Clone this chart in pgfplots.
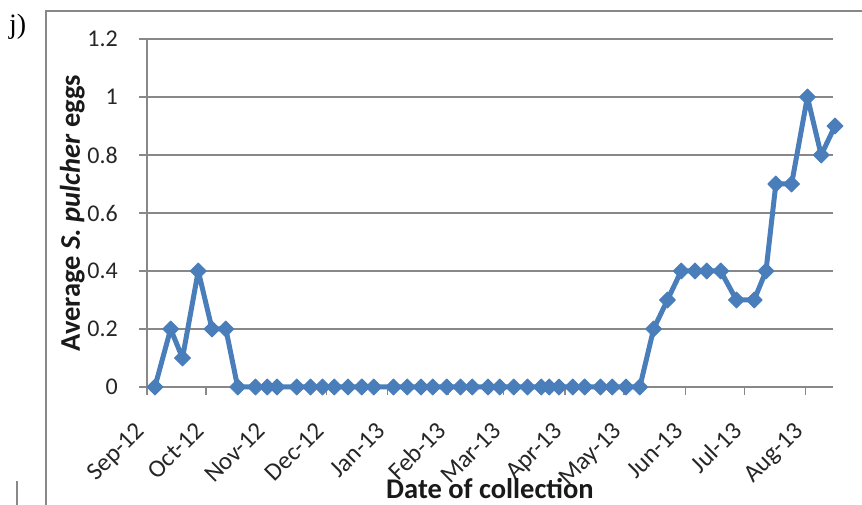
\documentclass[border=0pt]{standalone}
\usepackage{fontspec}
\setmainfont{Carlito}
\newfontfamily\seriffont{Liberation Serif}
\usepackage{pgfplots}
\pgfplotsset{compat=1.18}
\definecolor{xlblue}{HTML}{4A7EBB}
\definecolor{xlgrid}{HTML}{888888}
\pgfplotstableread{
day val
4 0
12 0.2
18 0.1
26 0.4
33 0.2
40 0.2
46 0
55 0
61 0
66 0
76 0
83 0
89 0
95 0
102 0
109 0
115 0
125 0
132 0
139 0
145 0
152 0
159 0
165 0
173 0
179 0
186 0
193 0
200 0
204 0
209 0
216 0
222 0
230 0
236 0
243 0
250 0
257 0.2
264 0.3
271 0.4
278 0.4
284 0.4
291 0.4
299 0.3
308 0.3
314 0.4
319 0.7
327 0.7
335 1.0
342 0.8
349 0.9
}\eggs
\begin{document}
\begin{tikzpicture}
\path[use as bounding box] (0pt,0pt) rectangle (862pt,505pt);
\draw[xlgrid, line width=1.2pt] (46pt,0pt) -- (46pt,494pt) -- (862pt,494pt);
\draw[xlgrid, line width=1.2pt] (17pt,0pt) -- (17pt,24pt);
\node[anchor=base west, font=\seriffont\fontsize{28}{32}\selectfont, inner sep=0pt] at (9pt,471pt) {j)};
\begin{axis}[
  at={(147pt,118pt)}, anchor=south west,
  scale only axis, width=686pt, height=348pt,
  xmin=0, xmax=348, ymin=0, ymax=1.2,
  clip=false,
  axis lines=left,
  axis line style={-, draw=xlgrid, line width=1.3pt},
  ymajorgrids,
  grid style={draw=xlgrid, line width=1.3pt},
  xtick={0,30,61,91,122,153,181,212,242,273,303,334},
  xticklabels={Sep-12,Oct-12,Nov-12,Dec-12,Jan-13,Feb-13,Mar-13,Apr-13,May-13,Jun-13,Jul-13,Aug-13},
  ytick={0,0.2,0.4,0.6,0.8,1,1.2},
  yticklabels={0,0.2,0.4,0.6,0.8,1,1.2},
  tick align=outside,
  major tick length=8pt,
  tick style={draw=xlgrid, line width=1.3pt},
  ticklabel style={font=\fontsize{24}{28}\selectfont, text=black!85},
  xticklabel style={font=\fontsize{25}{29}\selectfont, xshift=-1pt, yshift=-37pt, rotate=45, anchor=base east, inner sep=0pt},
  yticklabel style={anchor=east, inner sep=0pt, xshift=-21pt},
  xlabel={Date of collection},
  ylabel={Average \textit{S. pulcher} eggs},
  label style={font=\bfseries\fontsize{28.5}{32}\selectfont, text=black!90},
  xlabel style={at={(axis description cs:0.5,-0.319)}, anchor=base, inner sep=0pt},
  ylabel style={at={(axis description cs:-0.0977,0.5)}, anchor=base, inner sep=0pt},
]
\addplot[color=xlblue, line width=5pt, line join=round,
  mark=square*, mark size=5.6pt,
  mark options={rotate=45, solid, fill=xlblue, draw=xlblue, line width=1pt}]
  table[x=day, y=val] {\eggs};
\end{axis}
\end{tikzpicture}
\end{document}
